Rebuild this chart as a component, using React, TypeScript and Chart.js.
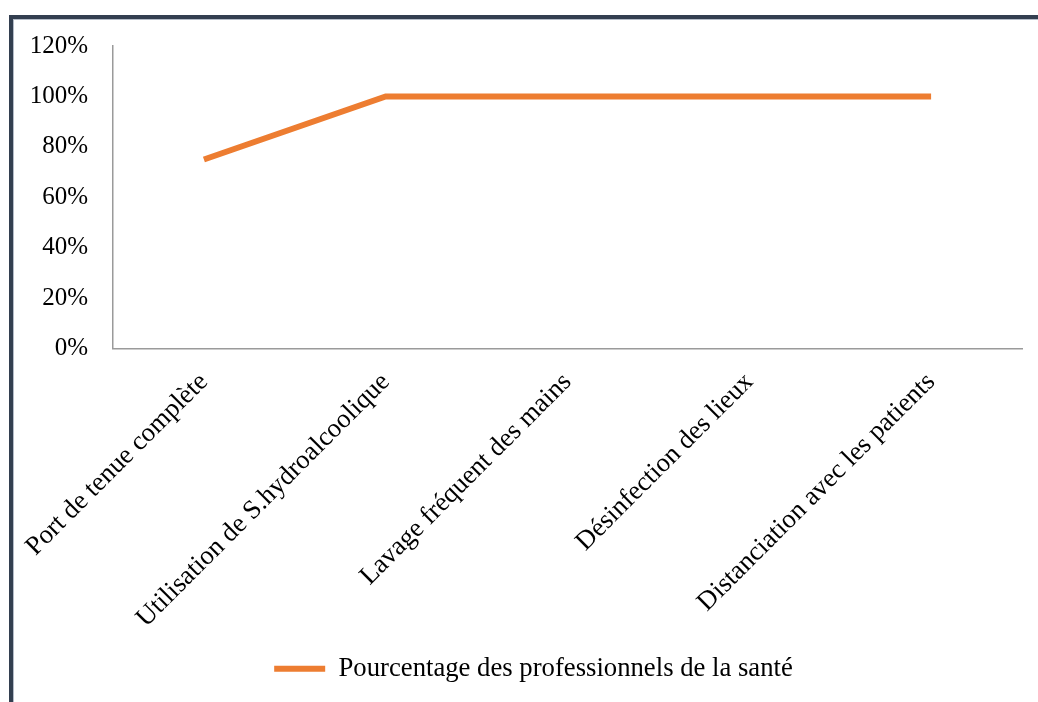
import React, { useEffect, useRef } from "react";
import { Chart, registerables } from "chart.js";

Chart.register(...registerables);

const categories = [
  "Port de tenue complète",
  "Utilisation de S.hydroalcoolique",
  "Lavage fréquent des mains",
  "Désinfection des lieux",
  "Distanciation avec les patients",
];
const seriesLabel = "Pourcentage des professionnels de la santé";
const seriesValues = [75, 100, 100, 100, 100];
const yTicks = [0, 20, 40, 60, 80, 100, 120];

const FONT = "'Liberation Serif', 'Times New Roman', serif";
const ORANGE = "#ED7D31";
const AXIS = "#9a9a9a";

export default function App() {
  const canvasRef = useRef<HTMLCanvasElement | null>(null);

  useEffect(() => {
    if (!canvasRef.current) return;
    const chart = new Chart(canvasRef.current, {
      type: "line",
      data: {
        labels: categories,
        datasets: [
          {
            label: seriesLabel,
            data: seriesValues,
            borderColor: ORANGE,
            backgroundColor: ORANGE,
            borderWidth: 6,
            pointRadius: 0,
            pointHoverRadius: 0,
            tension: 0,
            borderCapStyle: "butt",
            borderJoinStyle: "miter",
            yAxisID: "y",
          },
        ],
      },
      options: {
        responsive: false,
        animation: false,
        layout: { padding: { left: 0, right: 11, top: 26, bottom: 10 } },
        plugins: {
          tooltip: { enabled: false },
          legend: {
            position: "bottom",
            labels: {
              color: "#000",
              font: { family: FONT, size: 26.7 },
              boxWidth: 51,
              boxHeight: 6,
              padding: 10,
              generateLabels: (c) =>
                c.data.datasets.map((ds, i) => ({
                  text: ds.label as string,
                  fillStyle: ORANGE,
                  strokeStyle: ORANGE,
                  lineWidth: 0,
                  hidden: false,
                  datasetIndex: i,
                  fontColor: "#000",
                })),
            },
          },
        },
        scales: {
          x: {
            type: "category",
            offset: true,
            grid: { display: false, drawTicks: false },
            border: { display: true, color: AXIS, width: 1.5 },
            ticks: {
              color: "#000",
              font: { family: FONT, size: 26.7 },
              minRotation: 45,
              maxRotation: 45,
              padding: 18,
              autoSkip: false,
            },
            afterFit: (scale) => {
              scale.height = 296.7;
              scale.paddingLeft = 0;
              scale.paddingRight = 0;
            },
          },
          y: {
            type: "linear",
            position: "left",
            min: 0,
            max: 120,
            grid: { display: false, drawTicks: false },
            border: { display: true, color: AXIS, width: 1.5 },
            afterBuildTicks: (scale) => {
              scale.ticks = yTicks.map((v) => ({ value: v }));
            },
            ticks: {
              color: "#000",
              font: { family: FONT, size: 25 },
              padding: 25,
              callback: (v) => `${v}%`,
            },
            afterFit: (scale) => {
              scale.width = 99;
              scale.paddingTop = 0;
              scale.paddingBottom = 0;
            },
          },
          // empty right-hand gutter between the plot and the frame edge
          gutter: {
            type: "linear",
            position: "right",
            display: true,
            grid: { display: false, drawTicks: false },
            border: { display: false },
            ticks: { display: false },
            afterFit: (scale) => {
              scale.width = 31;
              scale.paddingTop = 0;
              scale.paddingBottom = 0;
            },
          },
        },
      },
    });
    return () => chart.destroy();
  }, []);

  return (
    <div
      style={{
        position: "absolute",
        left: 0,
        top: 0,
        width: 1038,
        height: 702,
        background: "#fff",
        overflow: "hidden",
      }}
    >
      <canvas
        ref={canvasRef}
        width={1050}
        height={682}
        style={{ position: "absolute", left: 14, top: 20, width: 1050, height: 682 }}
      />
      <div style={{ position: "absolute", left: 9, top: 15, width: 1029, height: 4, background: "#333f50" }} />
      <div style={{ position: "absolute", left: 13, top: 19, width: 1025, height: 1, background: "#b4bcc8" }} />
      <div style={{ position: "absolute", left: 9, top: 15, width: 4, height: 687, background: "#333f50" }} />
      <div style={{ position: "absolute", left: 13, top: 19, width: 1, height: 683, background: "#b4bcc8" }} />
    </div>
  );
}
